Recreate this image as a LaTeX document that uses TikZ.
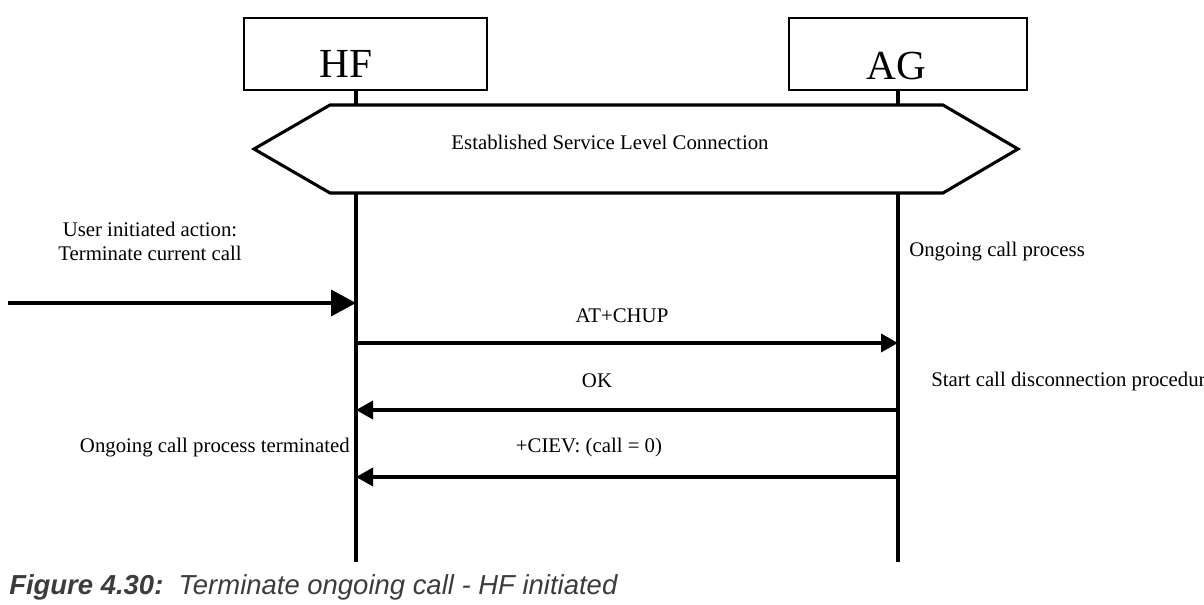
\documentclass[tikz,border=0pt]{standalone}
\usepackage{fontspec}
\setmainfont{Liberation Serif}
\newfontfamily\capfont{Liberation Sans}
\usetikzlibrary{arrows.meta, positioning}
\definecolor{capgray}{HTML}{3C3C3C}
\begin{document}
\begin{tikzpicture}[
  x=0.75pt, y=-0.75pt,
  entity/.style={rectangle, draw, line width=1.3pt, minimum width=182pt,
                 minimum height=54pt, inner sep=0pt},
  entitylabel/.style={font=\fontsize{31}{36}\selectfont, inner sep=0pt},
  lifeline/.style={line width=2.7pt},
  msg/.style={line width=2.7pt, -{Triangle[length=12.75pt, width=13.5pt]}},
  trigger/.style={line width=2.7pt, -{Triangle[length=18.75pt, width=19.5pt]}},
  note/.style={font=\fontsize{15.6}{18}\selectfont, inner sep=0pt, align=center}
]
  \useasboundingbox (0,0) rectangle (1204,605);

  % entities
  \node[entity] (hfbox) at (365.5,54) {};
  \node[entity, minimum width=178.5pt] (agbox) at (908,54) {};
  \node[entitylabel] (hf) at (346,64) {HF};
  \node[entitylabel] (ag) at (896,66) {AG};

  % lifelines
  \coordinate (hfend) at (356,562);
  \coordinate (agend) at (898,562);
  \draw[lifeline] (hfbox.south -| hfend) -- (hfend);
  \draw[lifeline] (agbox.south -| agend) -- (agend);

  % service level connection
  \draw[line width=2.3pt, fill=white] (254,149) -- (330,105) -- (943,105)
    -- (1018,149) -- (943,193) -- (330,193) -- cycle;
  \node[note] (slc) at (610,142) {Established Service Level Connection};

  % user action
  \node[note] (user) at (150,241) {User initiated action:\\Terminate current call};
  \coordinate (usrstart) at (8,303);
  \coordinate (hfin) at (356,303);
  \draw[trigger] (usrstart) -- (hfin);

  \node[note, anchor=west] (ongoing) at (909,252) {Ongoing call process};

  % AT+CHUP
  \coordinate (hf1) at (356,343);
  \coordinate (ag1) at (898,343);
  \node[note] (chup) at (622,316) {AT+CHUP};
  \draw[msg] (hf1) -- (ag1);

  % OK
  \coordinate (hf2) at (356,410);
  \coordinate (ag2) at (898,410);
  \node[note] (ok) at (597,381) {OK};
  \draw[msg] (ag2) -- (hf2);
  \node[note, anchor=west] (disc) at (931,382) {Start call disconnection procedure};

  % +CIEV
  \coordinate (hf3) at (356,477);
  \coordinate (ag3) at (898,477);
  \node[note] (ciev) at (589,448) {+CIEV: (call = 0)};
  \draw[msg] (ag3) -- (hf3);
  \node[note, anchor=east] (term) at (350,448) {Ongoing call process terminated};

  % caption
  \node[anchor=base west, inner sep=0pt, text=capgray,
        font=\capfont\fontsize{20.6}{24}\selectfont\itshape] (caption) at (9,595)
    {\bfseries Figure 4.30:\mdseries\ \ Terminate ongoing call - HF initiated};
\end{tikzpicture}
\end{document}
